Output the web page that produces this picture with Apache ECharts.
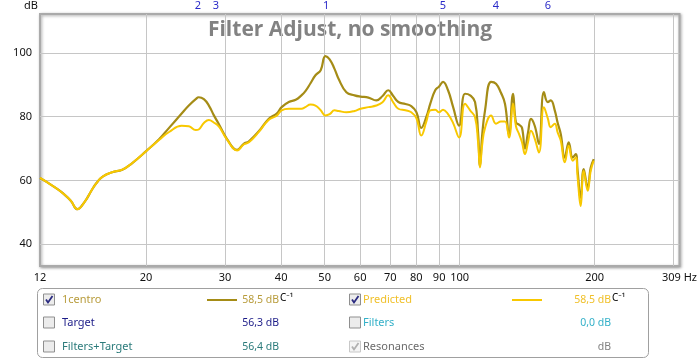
<!DOCTYPE html>
<html><head><meta charset="utf-8">
<script src="https://cdn.jsdelivr.net/npm/echarts@6/dist/echarts.min.js"></script>
<style>html,body{margin:0;padding:0;background:#fff}#c{width:700px;height:360px}</style>
</head><body><div id="c"></div>
<script>
// ---- data (frequency in Hz, level in dB) ----
const freqs = [11.6,12.05,12.6,13.1,13.6,14.05,14.6,15.1,15.5,16.0,16.8,17.7,18.6,20.0,21.4,22.5,24.0,24.9,25.8,26.2,26.9,27.6,28.3,29.1,30.3,31.9,33.0,33.9,35.7,37.5,39.1,40.1,41.6,43.1,44.4,45.3,46.5,47.7,49.0,50.2,51.3,52.6,53.7,55.9,58.3,60.1,62.6,65.2,67.3,69.3,71.1,73.0,75.7,78.0,80.1,82.1,84.3,86.0,88.2,90.0,91.8,94.2,96.7,99.7,102.8,105.5,108.2,109.9,111.0,112.2,113.9,117.5,120.5,123.6,126.2,128.8,131.5,133.5,135.6,137.7,139.8,142.0,144.2,147.1,150.2,154.1,157.2,159.6,162.9,165.4,168.0,171.5,175.0,178.6,181.4,183.2,186.1,189.0,192.9,195.9,199.0];
const centro = [60.8,59.4,57.6,55.8,53.6,51.0,53.4,56.8,59.2,61.2,62.6,63.4,65.4,69.2,73.0,76.5,81.0,83.5,85.5,86.1,85.5,83.5,80.5,77.5,73.0,69.6,71.5,72.3,75.5,79.3,81.0,83.0,84.6,85.3,86.7,88.0,90.5,93.0,94.6,99.0,98.0,95.0,91.9,87.7,86.7,86.3,86.0,85.1,86.5,88.3,86.5,84.6,84.0,83.3,81.4,76.5,80.0,84.1,88.3,89.5,90.9,88.3,83.0,77.2,87.2,86.7,84.6,75.0,64.6,74.0,82.0,90.9,90.3,87.5,84.0,74.6,87.2,78.2,77.5,76.5,70.0,75.0,79.3,77.0,71.5,87.7,84.6,85.1,82.0,78.0,74.6,67.2,72.0,67.2,68.3,63.0,54.6,63.6,57.8,64.0,66.7];
const predicted = [60.8,59.4,57.6,55.8,53.6,51.0,53.4,56.8,59.2,61.2,62.6,63.4,65.4,69.2,72.8,75.2,77.2,77.0,75.8,76.0,78.0,79.0,78.2,76.8,72.8,69.4,71.3,72.0,75.3,79.0,80.3,82.0,82.5,82.5,82.5,83.0,83.8,83.5,82.0,80.4,80.8,82.0,81.8,81.4,81.8,82.5,83.0,83.5,84.5,86.7,84.5,82.5,82.0,81.4,79.5,74.1,78.5,82.0,82.2,81.4,82.2,80.8,78.0,73.5,84.1,82.0,79.8,72.0,64.1,71.0,76.5,80.4,77.8,78.5,78.5,73.5,84.1,77.0,74.6,72.0,68.3,72.0,75.6,73.0,68.8,83.0,79.5,76.7,77.8,75.0,72.5,65.7,70.9,66.2,67.2,61.0,52.0,63.0,56.8,63.0,66.2];

const xRangeHz = [11.6, 309];
const xGridHz = [20,30,40,50,60,70,80,90,100,200,300];
const xLabelHz = [11.6,20,30,40,50,60,70,80,90,100,200,309];
const xLabelText = ['12','20','30','40','50','60','70','80','90','100','200','309 Hz'];
const yRange = [33.2, 112.2];
const yTicks = [40,60,80,100];
const resonanceHz = [26.1,28.6,50.4,91.8,120.5,157.2];
const resonanceLabels = ['2','3','1','5','4','6'];

const legendLeft = [
  {name:'1centro', checked:true, color:'#b89c3c', value:'58,5 dB', unit:true, line:'#a58c16'},
  {name:'Target', checked:false, color:'#1c1c88', value:'56,3 dB'},
  {name:'Filters+Target', checked:false, color:'#2a7a7a', value:'56,4 dB'}
];
const legendRight = [
  {name:'Predicted', checked:true, color:'#f0c02a', value:'58,5 dB', unit:true, line:'#f8c800'},
  {name:'Filters', checked:false, color:'#33b0c8', value:'0,0 dB'},
  {name:'Resonances', checked:true, disabled:true, color:'#6a6a6a', value:'dB', valueColor:'#808080'}
];

const L = Math.log10;
const toPts = (vals) => freqs.map((f,i)=>[L(f), vals[i]]);
function nearestLabel(v, hz, txt){
  let best=0, d=1e9;
  hz.forEach((h,i)=>{const dd=Math.abs(L(h)-v); if(dd<d){d=dd;best=i;}});
  return txt[best];
}

const FONT = 'Noto Sans';
const graphics = [];
function checkbox(x, y, checked, disabled){
  graphics.push({type:'rect', shape:{x:x, y:y, width:11, height:11},
    style:{fill: disabled ? '#f4f4f4' : '#ececec', stroke: disabled ? '#c8c8c8':'#8f8f8f', lineWidth:1}});
  if(checked){
    graphics.push({type:'polyline', shape:{points:[[x+2.5,y+5.5],[x+4.5,y+8.5],[x+9,y+2]]},
      style:{stroke: disabled ? '#b0b0b0' : '#2a2a80', lineWidth:1.8, fill:null}});
  }
}
function legendCol(items, xBox, xText, xLine, xVal){
  const rowsY = [300, 323, 347];
  items.forEach((it, i)=>{
    const cy = rowsY[i];
    checkbox(xBox, cy-6, it.checked, it.disabled);
    graphics.push({type:'text', x:xText, y:cy, style:{text:it.name, fill:it.color, font:'11px "'+FONT+'"', verticalAlign:'middle'}});
    if(it.line){
      graphics.push({type:'line', shape:{x1:xLine, y1:cy, x2:xLine+30, y2:cy}, style:{stroke:it.line, lineWidth:2}});
    }
    graphics.push({type:'text', x:xVal, y:cy, style:{text:it.value, fill:it.valueColor||it.color, font:'10.5px "'+FONT+'"', align:'right', verticalAlign:'middle'}});
    if(it.unit){
      graphics.push({type:'text', x:xVal+1, y:cy-2, style:{text:'C⁻¹', fill:'#000', font:'10px "'+FONT+'"', verticalAlign:'middle'}});
    }
  });
}
graphics.push({type:'rect', shape:{x:37.5, y:288.5, width:611, height:69, r:5}, style:{fill:'#fff', stroke:'#a0a0a0', lineWidth:1}});
legendCol(legendLeft, 43.5, 62, 207, 279);
legendCol(legendRight, 349.5, 363, 512, 611);
graphics.push({type:'text', x:350, y:30, style:{text:'Filter Adjust, no smoothing', fill:'#828282', font:'bold 21px "Open Sans"', align:'center', verticalAlign:'middle'}});

const chart = echarts.init(document.getElementById('c'), null, {renderer:'canvas'});
chart.setOption({
  animation:false,
  backgroundColor:'#fff',
  grid:{left:40, right:18, top:14, bottom:94, show:true, backgroundColor:'#fff',
    borderColor:'#aaaaaa', borderWidth:2, shadowColor:'rgba(0,0,0,0.35)', shadowBlur:3, shadowOffsetX:1, shadowOffsetY:1},
  xAxis:[{
    type:'value', min:L(xRangeHz[0]), max:L(xRangeHz[1]),
    axisLine:{show:false},
    axisTick:{show:false, customValues: xGridHz.map(L)},
    splitLine:{show:true, lineStyle:{color:'#c6c6c6', width:1}},
    axisLabel:{customValues: xLabelHz.map(L), showMinLabel:true, showMaxLabel:true, margin:6,
      color:'#111', fontSize:11, fontFamily:FONT,
      formatter:(v)=>nearestLabel(v, xLabelHz, xLabelText)}
  },{
    type:'value', position:'top', min:L(xRangeHz[0]), max:L(xRangeHz[1]),
    axisLine:{show:false}, axisTick:{show:false}, splitLine:{show:false},
    axisLabel:{customValues: resonanceHz.map(L), margin:3, color:'#2a2ac8', fontSize:11, fontFamily:FONT,
      formatter:(v)=>nearestLabel(v, resonanceHz, resonanceLabels)}
  }],
  yAxis:{
    type:'value', min:yRange[0], max:yRange[1],
    name:'dB', nameLocation:'end', nameGap:3,
    nameTextStyle:{color:'#111', fontSize:11, fontFamily:FONT, align:'right', padding:[0,2,0,0]},
    axisLine:{show:false},
    axisTick:{show:false, customValues:yTicks},
    splitLine:{show:true, lineStyle:{color:'#c6c6c6', width:1}},
    axisLabel:{customValues:yTicks, margin:8, color:'#111', fontSize:11, fontFamily:FONT}
  },
  graphic:graphics,
  series:[
    {type:'line', name:'1centro', data:toPts(centro), showSymbol:false, smooth:0.45,
      lineStyle:{color:'#a58c16', width:2.2}, z:2},
    {type:'line', name:'Predicted', data:toPts(predicted), showSymbol:false, smooth:0.45,
      lineStyle:{color:'#f8c800', width:2}, z:3}
  ]
});
</script></body></html>
